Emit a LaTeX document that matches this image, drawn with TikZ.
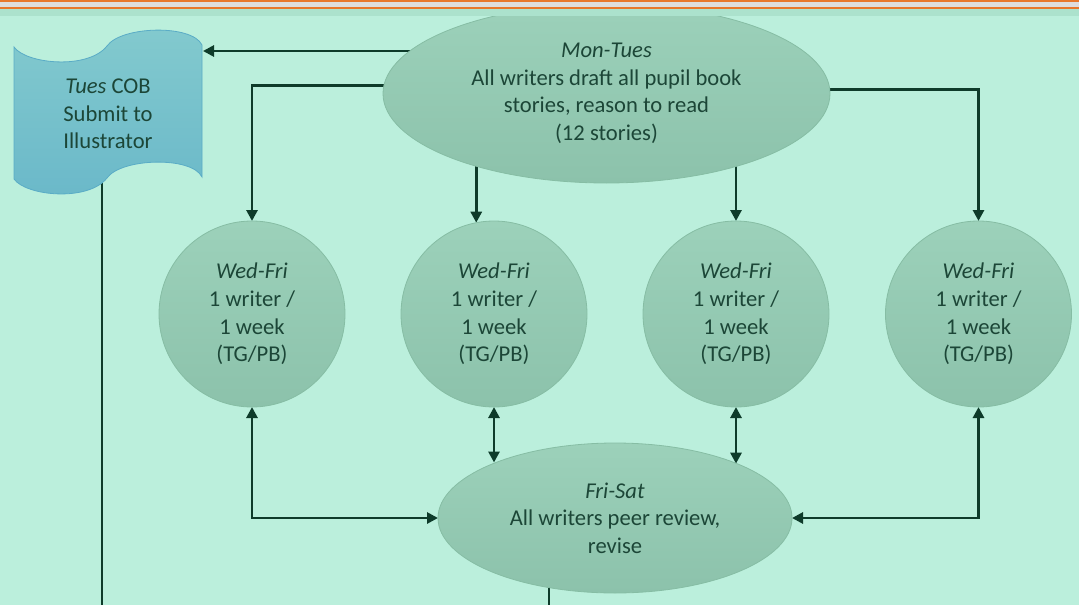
\documentclass[tikz,border=0pt]{standalone}
\usepackage{fontspec}
\setmainfont{Carlito}
\usetikzlibrary{arrows.meta,shapes.geometric,backgrounds,calc}
\definecolor{bgc}{RGB}{187,239,220}
\definecolor{bandc}{RGB}{172,226,205}
\definecolor{orangec}{RGB}{232,120,44}
\definecolor{grayc}{RGB}{222,222,222}
\definecolor{linec}{RGB}{14,59,42}
\definecolor{txtc}{RGB}{28,70,55}
\definecolor{bubtop}{RGB}{156,209,186}
\definecolor{bubbot}{RGB}{140,194,171}
\definecolor{bubline}{RGB}{134,189,164}
\definecolor{wavetop}{RGB}{131,202,206}
\definecolor{wavebot}{RGB}{106,184,201}
\definecolor{waveline}{RGB}{90,172,198}
\newcommand\lblfont{\fontsize{22.6}{27.6}\selectfont}
\begin{document}
\begin{tikzpicture}[x=1pt,y=-1pt,
  bub/.style={draw=bubline, line width=0.8pt, top color=bubtop, bottom color=bubbot,
    inner sep=0pt, outer sep=0pt, text=txtc, align=center, font=\lblfont},
  ell/.style={bub, shape=ellipse},
  circ/.style={bub, shape=circle, minimum size=186pt},
  conn/.style={draw=linec, line width=2.9pt},
  arr/.style={conn, -{Triangle[length=11pt,width=11pt]}},
  arrboth/.style={conn, {Triangle[length=11pt,width=11pt]}-{Triangle[length=11pt,width=11pt]}},
  wavestyle/.style={draw=waveline, line width=0.8pt, top color=wavetop, bottom color=wavebot}
]
\useasboundingbox (0,0) rectangle (1079,605);

% wave (document) shape
\draw[wavestyle] (14,47) .. controls (26,64) and (88,70) .. (107,46)
  .. controls (121,26) and (192,24) .. (202,45) -- (202,177)
  .. controls (192,156) and (121,158) .. (107,178)
  .. controls (88,202) and (26,196) .. (14,179) -- cycle;
\node[text=txtc, align=center, font=\lblfont] (wave) at (108,114)
  {\textit{Tues} COB\\Submit to\\Illustrator};
\coordinate (waveR) at (203,51);
\coordinate (waveout) at (102,605);

% nodes
\node[ell, minimum width=447pt, minimum height=179pt] (top) at (606.5,93.5)
  {\textit{Mon-Tues}\\All writers draft all pupil book\\stories, reason to read\\(12 stories)};
\node[circ] (c1) at (252,314) {\textit{Wed-Fri}\\1 writer /\\1 week\\(TG/PB)};
\node[circ] (c2) at (494,314) {\textit{Wed-Fri}\\1 writer /\\1 week\\(TG/PB)};
\node[circ] (c3) at (736,314) {\textit{Wed-Fri}\\1 writer /\\1 week\\(TG/PB)};
\node[circ] (c4) at (978.5,314) {\textit{Wed-Fri}\\1 writer /\\1 week\\(TG/PB)};
\node[ell, minimum width=354pt, minimum height=150pt] (bot) at (615,518)
  {\textit{Fri-Sat}\\All writers peer review,\\revise};
\coordinate (botout) at (549,605);

% top band
\fill[bandc] (0,9) rectangle (1079,16);
\fill[grayc] (0,2) rectangle (1079,7);
\fill[orangec] (0,0) rectangle (1079,2.3);
\fill[orangec] (0,6.5) rectangle (1079,8.8);

\begin{scope}[on background layer]
  \fill[bgc] (0,0) rectangle (1079,605);
  \draw[arr] (top.center |- waveR) -- (waveR);
  \draw[arr] (top.178.8) -| (c1.north);
  \draw[arr] (c2.101.16 |- top.center) -- (c2.101.16);
  \draw[arr] (c3.north |- top.center) -- (c3.north);
  \draw[arr] (top.1.2) -| (c4.north);
  \draw[arrboth] (c1.south) |- (bot.west);
  \draw[arrboth] (c2.south) -- (c2.south |- bot.155.67);
  \draw[arrboth] (c3.south) -- (c3.south |- bot.24.33);
  \draw[arrboth] (c4.south) |- (bot.east);
  \draw[conn] (waveout |- wave.center) -- (waveout);
  \draw[conn] (botout |- bot.center) -- (botout);
\end{scope}
\end{tikzpicture}
\end{document}
